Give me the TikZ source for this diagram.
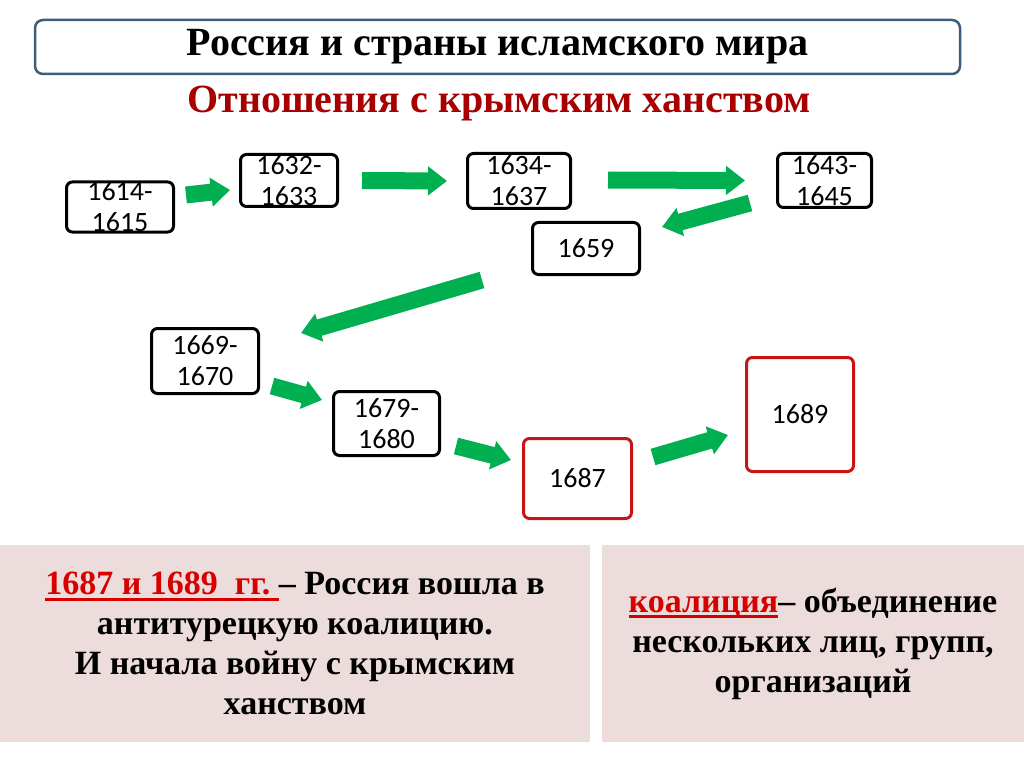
\documentclass[tikz,border=0pt]{standalone}
\usepackage{fontspec}
\setmainfont{Liberation Serif}
\newfontfamily\boxfont{Carlito}
\usetikzlibrary{arrows.meta}
\definecolor{arrowgreen}{RGB}{0,176,80}
\definecolor{titleblue}{RGB}{62,92,124}
\definecolor{darkred}{RGB}{168,0,0}
\definecolor{brightred}{RGB}{215,0,0}
\definecolor{boxred}{RGB}{200,20,20}
\definecolor{panelpink}{RGB}{236,220,220}
\newcommand\redterm[1]{{\color{brightred}\setbox0\hbox{#1}\rlap{\rule[-6pt]{\wd0}{3pt}}\box0}}

\begin{document}
\begin{tikzpicture}
   [x=1pt, y=-1pt,
   titlebox/.style={rectangle, rounded corners=8pt, draw=titleblue, line width=2.5pt, minimum width=925pt, minimum height=54pt, font=\bfseries\fontsize{40}{48}\selectfont},
   subtitle/.style={text=darkred, font=\bfseries\fontsize{40}{48}\selectfont},
   yearbox/.style={rectangle, rounded corners=6pt, draw=black, line width=3pt, align=center, inner sep=0pt, font=\boxfont\fontsize{28}{31}\selectfont},
   redbox/.style={yearbox, draw=boxred},
   panel/.style={rectangle, fill=panelpink, inner sep=0pt, align=center, font=\bfseries\fontsize{34}{40}\selectfont},
   greenarrow/.style={draw=arrowgreen, line width=17pt, -{Triangle[width=28pt, length=19pt]}},
   ]
 \useasboundingbox (0,0) rectangle (1024,767);
 % header
 \node at (497.5,47) [titlebox] (title) {\raisebox{-4pt}{Россия и страны исламского мира}};
 \node at (499,104) [subtitle] (subtitle) {Отношения с крымским ханством};
 % years
 \node at (120,207) [yearbox, minimum width=107pt, minimum height=49pt] (y1614) {1614-\\1615};
 \node at (289,180.5) [yearbox, minimum width=97pt, minimum height=52pt] (y1632) {1632-\\1633};
 \node at (519,181) [yearbox, minimum width=103pt, minimum height=55pt] (y1634) {1634-\\1637};
 \node at (824.5,180.5) [yearbox, minimum width=94pt, minimum height=54pt] (y1643) {1643-\\1645};
 \node at (586,248.5) [yearbox, minimum width=107pt, minimum height=52pt] (y1659) {1659};
 \node at (205,361) [yearbox, minimum width=107pt, minimum height=65pt] (y1669) {1669-\\1670};
 \node at (386.5,423.5) [yearbox, minimum width=106pt, minimum height=64pt] (y1679) {1679-\\1680};
 \node at (577.5,478.5) [redbox, minimum width=108pt, minimum height=80pt] (y1687) {1687};
 \node at (800,414.5) [redbox, minimum width=107pt, minimum height=114pt] (y1689) {1689};
 % arrows
 \draw[greenarrow] ([shift={(11,-12)}]y1614.east) -- ([shift={(-9,9.5)}]y1632.west);
 \draw[greenarrow] ([shift={(23,0)}]y1632.east) -- ([shift={(-19,0)}]y1634.west);
 \draw[greenarrow] ([shift={(36,-1)}]y1634.east) -- ([shift={(-31,0)}]y1643.west);
 \draw[greenarrow] ([shift={(-26,-6)}]y1643.south west) -- ([shift={(21,-21.5)}]y1659.east);
 \draw[greenarrow] ([shift={(-49,4)}]y1659.south west) -- ([shift={(41,6)}]y1669.north east);
 \draw[greenarrow] ([shift={(12,25)}]y1669.east) -- ([shift={(-10,-23.5)}]y1679.west);
 \draw[greenarrow] ([shift={(15,22.5)}]y1679.east) -- ([shift={(-11,-18.5)}]y1687.west);
 \draw[greenarrow] ([shift={(20,-21.5)}]y1687.east) -- ([shift={(-17,20.5)}]y1689.west);
 % bottom panels
 \node at (295,643.5) [panel, minimum width=590pt, minimum height=197pt] (result) {\redterm{1687 и 1689~~гг.~}– Россия вошла в\\антитурецкую коалицию.\\И начала войну с крымским\\ханством};
 \node at (813,643.5) [panel, minimum width=422pt, minimum height=197pt] (term) {\redterm{коалиция}– объединение\\нескольких лиц, групп,\\организаций};
\end{tikzpicture}
\end{document}
